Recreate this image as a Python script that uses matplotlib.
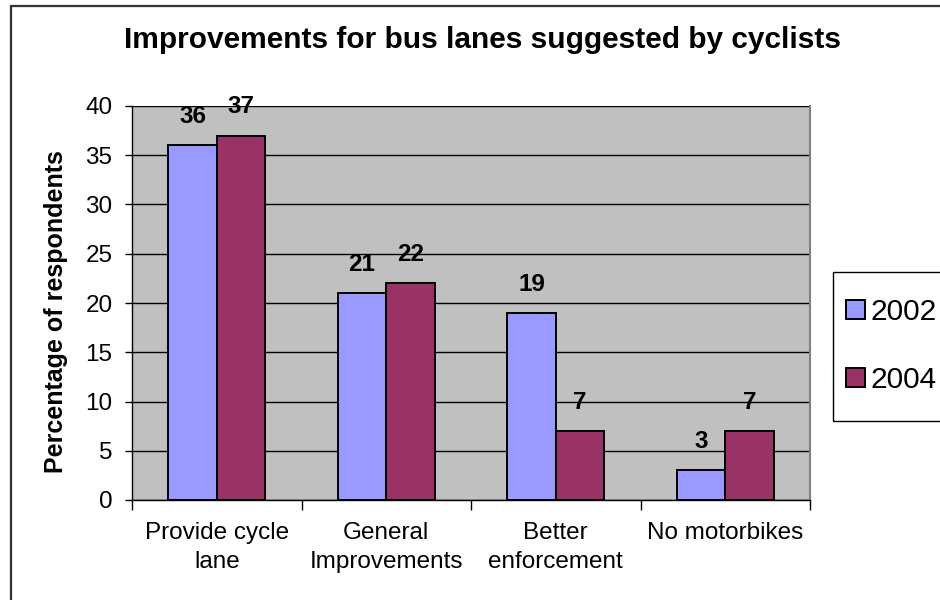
import numpy as np
import matplotlib
matplotlib.use("Agg")
import matplotlib.pyplot as plt
from matplotlib.patches import Rectangle, Patch

plt.rcParams['font.family'] = ['Liberation Sans', 'DejaVu Sans']

# data
categories = ["Provide cycle\nlane", "General\nImprovements", "Better\nenforcement", "No motorbikes"]
years = ["2002", "2004"]
values_2002 = [36, 21, 19, 3]
values_2004 = [37, 22, 7, 7]
colors = ["#9999FF", "#993366"]

W, H = 940, 600
fig = plt.figure(figsize=(W / 100, H / 100), dpi=100)
ax = fig.add_axes([132 / W, 1 - 500 / H, 678 / W, 394 / H])
ax.set_facecolor("#C0C0C0")

x = np.arange(len(categories))
bw = 1 / 3.5  # excel gap width 150%
b1 = ax.bar(x - bw / 2, values_2002, bw, color=colors[0], edgecolor="black", linewidth=1.4, zorder=3)
b2 = ax.bar(x + bw / 2, values_2004, bw, color=colors[1], edgecolor="black", linewidth=1.4, zorder=3)

for bars, vals in [(b1, values_2002), (b2, values_2004)]:
    for rect, v in zip(bars, vals):
        ax.annotate(str(v), (rect.get_x() + rect.get_width() / 2, v), xytext=(0, 16),
                    textcoords="offset points", ha="center", va="baseline",
                    fontsize=17.5, fontweight="bold", zorder=4)

ax.set_xlim(-0.5, len(categories) - 0.5)
ax.set_ylim(0, 40)
ax.set_yticks(np.arange(0, 41, 5))
ax.yaxis.grid(True, color="black", linewidth=1.0, zorder=1)
ax.set_axisbelow(True)

# category boundaries as major ticks, labels on minor ticks
ax.set_xticks(np.arange(-0.5, len(categories), 1.0))
ax.set_xticklabels([])
ax.set_xticks(x, minor=True)
ax.set_xticklabels(categories, minor=True, fontsize=17.5, linespacing=1.4)
ax.tick_params(axis="x", which="major", length=7, width=1, direction="out")
ax.tick_params(axis="x", which="minor", length=0, pad=16)
ax.tick_params(axis="y", length=5, width=1, pad=9, labelsize=17.5)

ax.spines["top"].set_visible(False)
ax.spines["right"].set_color("#808080")
ax.spines["right"].set_linewidth(1.5)
ax.spines["left"].set_linewidth(1.0)
ax.spines["bottom"].set_linewidth(1.0)

fig.text(482 / W, 1 - 48 / H, "Improvements for bus lanes suggested by cyclists",
         ha="center", va="baseline", fontsize=21.5, fontweight="bold")
fig.text(56 / W, 1 - 312 / H, "Percentage of respondents", rotation=90,
         ha="center", va="center", fontsize=18, fontweight="bold")

# legend
handles = [Patch(facecolor=c, edgecolor="black", linewidth=1.4) for c in colors]
fig.legend(handles, years, loc="center left", bbox_to_anchor=(846 / W, 1 - 346 / H),
           bbox_transform=fig.transFigure, frameon=False, fontsize=21.5,
           borderpad=0, borderaxespad=0, handlelength=0.63, handleheight=0.63,
           handletextpad=0.2, labelspacing=1.35)
fig.add_artist(Rectangle((833 / W, 1 - 421 / H), 0.2, 149 / H, transform=fig.transFigure,
                         fill=False, edgecolor="black", linewidth=1.0))

# outer chart border
fig.add_artist(Rectangle((11 / W, -0.1), 1.2, 1.1 - 6.5 / H, transform=fig.transFigure,
                         fill=False, edgecolor="#333333", linewidth=1.6))

fig.savefig("out.png", dpi=100)
